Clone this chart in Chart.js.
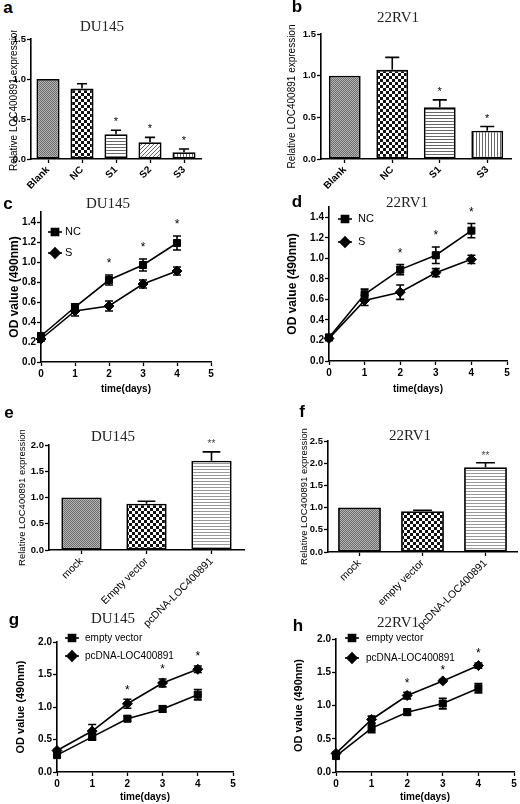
<!DOCTYPE html>
<html>
<head>
<meta charset="utf-8">
<script src="https://cdn.jsdelivr.net/npm/chart.js@4"></script>
<style>
  body { margin: 0; background: #fff; width: 520px; height: 804px; position: relative; overflow: hidden; }
  canvas { position: absolute; }
  .letter { position: absolute; font: bold 17px 'Liberation Sans', Arial, sans-serif; transform: translate(-50%, -50%); color: #000; }
  .ttl { position: absolute; font: 15px 'Liberation Serif', 'DejaVu Serif', serif; transform: translate(-50%, -50%); color: #222; white-space: nowrap; }
</style>
</head>
<body>
<script>
// ---- data ----
const aCats = ['Blank', 'NC', 'S1', 'S2', 'S3'];
const aVals = [1.0, 0.88, 0.31, 0.21, 0.085];
const aErr = [0, 0.06, 0.05, 0.06, 0.04];
const aStars = ['', '', '*', '*', '*'];

const bCats = ['Blank', 'NC', 'S1', 'S3'];
const bVals = [1.0, 1.07, 0.62, 0.34];
const bErr = [0, 0.15, 0.09, 0.05];
const bStars = ['', '', '*', '*'];

const days = [0, 1, 2, 3, 4];

const cNC = [0.26, 0.55, 0.82, 0.97, 1.19];
const cNCErr = [0.02, 0.03, 0.05, 0.06, 0.07];
const cS = [0.23, 0.51, 0.56, 0.78, 0.91];
const cSErr = [0.02, 0.05, 0.05, 0.04, 0.04];
const cStars = ['', '', '*', '*', '*'];

const dNC = [0.23, 0.65, 0.89, 1.03, 1.27];
const dNCErr = [0.02, 0.05, 0.05, 0.08, 0.07];
const dS = [0.22, 0.59, 0.67, 0.86, 0.99];
const dSErr = [0.02, 0.05, 0.07, 0.04, 0.04];
const dStars = ['', '', '*', '*', '*'];

const eCats = ['mock', 'Empty vector', 'pcDNA-LOC400891'];
const eVals = [1.0, 0.88, 1.70];
const eErr = [0, 0.05, 0.17];
const eStars = ['', '', '**'];

const fCats = ['mock', 'empty vector', 'pcDNA-LOC400891'];
const fVals = [1.0, 0.92, 1.91];
const fErr = [0, 0.02, 0.10];
const fStars = ['', '', '**'];

const gEmpty = [0.26, 0.54, 0.82, 0.97, 1.19];
const gEmptyErr = [0.03, 0.05, 0.04, 0.05, 0.08];
const gPc = [0.33, 0.63, 1.05, 1.37, 1.58];
const gPcErr = [0.02, 0.10, 0.07, 0.06, 0.05];
const gStars = ['', '', '*', '*', '*'];

const hEmpty = [0.24, 0.66, 0.90, 1.03, 1.26];
const hEmptyErr = [0.03, 0.07, 0.04, 0.08, 0.07];
const hPc = [0.28, 0.79, 1.15, 1.37, 1.60];
const hPcErr = [0.02, 0.05, 0.05, 0.02, 0.04];
const hStars = ['', '', '*', '*', '*'];

const FONT = "'Liberation Sans', Arial, sans-serif";
Chart.defaults.font.family = FONT;
Chart.defaults.color = '#000';

// hatch fills like the GraphPad bars
function makePattern(kind) {
  const c = document.createElement('canvas');
  const g = c.getContext('2d');
  if (kind === 'shade') {
    c.width = c.height = 2;
    g.fillStyle = '#b4b4b4'; g.fillRect(0, 0, 2, 2);
    g.fillStyle = '#6c6c6c'; g.fillRect(0, 0, 1, 1); g.fillRect(1, 1, 1, 1);
  } else if (kind === 'check') {
    c.width = c.height = 6;
    g.fillStyle = '#fff'; g.fillRect(0, 0, 6, 6);
    g.fillStyle = '#111'; g.fillRect(0, 0, 3, 3); g.fillRect(3, 3, 3, 3);
  } else if (kind === 'hlines' || kind === 'hlight') {
    c.width = 4; c.height = 3;
    g.fillStyle = '#fff'; g.fillRect(0, 0, 4, 3);
    g.fillStyle = kind === 'hlines' ? '#666' : '#999'; g.fillRect(0, 0, 4, 1);
  } else if (kind === 'vlines') {
    c.width = 3; c.height = 4;
    g.fillStyle = '#fff'; g.fillRect(0, 0, 3, 4);
    g.fillStyle = '#666'; g.fillRect(0, 0, 1, 4);
  } else if (kind === 'diag') {
    c.width = c.height = 4;
    g.fillStyle = '#fff'; g.fillRect(0, 0, 4, 4);
    g.fillStyle = '#666';
    for (let i = 0; i < 4; i++) g.fillRect(i, 3 - i, 1, 1);
  }
  return g.createPattern(c, 'repeat');
}

const valOf = v => (typeof v === 'object' ? v.y : v);

// error bars (bars: upward only, lines: both ways)
const errorBars = {
  id: 'errorBars',
  afterDatasetsDraw(chart) {
    const { ctx } = chart;
    const ys = chart.scales.y;
    chart.data.datasets.forEach((ds, di) => {
      if (!ds.errors) return;
      const meta = chart.getDatasetMeta(di);
      const isBar = meta.type === 'bar';
      meta.data.forEach((el, i) => {
        const e = ds.errors[i];
        if (!e) return;
        const v = valOf(ds.data[i]);
        const top = ys.getPixelForValue(v + e);
        const bot = isBar ? el.y : ys.getPixelForValue(v - e);
        const cap = isBar ? el.width * 0.22 : 4;
        ctx.save();
        ctx.strokeStyle = '#000';
        ctx.lineWidth = 1.6;
        ctx.beginPath();
        ctx.moveTo(el.x, bot); ctx.lineTo(el.x, top);
        ctx.moveTo(el.x - cap, top); ctx.lineTo(el.x + cap, top);
        if (!isBar) { ctx.moveTo(el.x - cap, bot); ctx.lineTo(el.x + cap, bot); }
        ctx.stroke();
        ctx.restore();
      });
    });
  }
};

// significance stars
const starMarks = {
  id: 'starMarks',
  afterDatasetsDraw(chart, args, o) {
    const { ctx } = chart;
    const ds = chart.data.datasets[o.dataset];
    const meta = chart.getDatasetMeta(o.dataset);
    const ys = chart.scales.y;
    ctx.save();
    ctx.fillStyle = o.color;
    ctx.font = o.size + 'px ' + FONT;
    ctx.textAlign = 'center';
    ctx.textBaseline = 'middle';
    o.marks.forEach((m, i) => {
      if (!m) return;
      const top = ys.getPixelForValue(valOf(ds.data[i]) + (ds.errors[i] || 0));
      ctx.fillText(m, meta.data[i].x, top - o.gap);
    });
    ctx.restore();
  }
};

// legend sitting inside the plot, top left
const innerLegend = {
  id: 'innerLegend',
  afterDraw(chart, args, o) {
    if (!o.show) return;
    const { ctx, chartArea } = chart;
    chart.data.datasets.forEach((ds, i) => {
      const x = chartArea.left + o.dx;
      const y = chartArea.top + o.dy + i * o.gap;
      ctx.save();
      ctx.strokeStyle = '#000';
      ctx.fillStyle = '#000';
      ctx.lineWidth = 1.6;
      ctx.beginPath();
      ctx.moveTo(x - o.half, y); ctx.lineTo(x + o.half, y);
      ctx.stroke();
      Chart.helpers.drawPoint(ctx, { pointStyle: ds.pointStyle, radius: ds.pointRadius, borderWidth: 1 }, x, y);
      ctx.font = o.size + 'px ' + FONT;
      ctx.textBaseline = 'middle';
      ctx.fillText(ds.label, x + o.textDx, y);
      ctx.restore();
    });
  }
};

function axisGrid() {
  return { display: true, drawOnChartArea: false, drawTicks: true, tickLength: 4, tickColor: '#000', tickWidth: 1.3, offset: false };
}

function makePanel(p) {
  const [bx, by, bw, bh] = p.box;
  const [al, at, ar, ab] = p.area;
  const cv = document.createElement('canvas');
  cv.width = bw; cv.height = bh;
  cv.style.left = bx + 'px'; cv.style.top = by + 'px';
  document.body.appendChild(cv);

  const letter = document.createElement('div');
  letter.className = 'letter';
  letter.textContent = p.id;
  letter.style.left = p.letterAt[0] + 'px'; letter.style.top = p.letterAt[1] + 'px';
  document.body.appendChild(letter);

  const ttl = document.createElement('div');
  ttl.className = 'ttl';
  ttl.textContent = p.title;
  ttl.style.left = p.titleAt[0] + 'px'; ttl.style.top = p.titleAt[1] + 'px';
  document.body.appendChild(ttl);

  const yAxisW = al - bx, padTop = at - by, padRight = bx + bw - ar, xAxisH = by + bh - ab;
  const yTitlePad = p.ylabelX - bx - p.yTitleSize * 0.6;
  const isBar = p.kind === 'bar';

  const scales = {
    x: {
      afterFit: s => { s.height = xAxisH; },
      grid: axisGrid(),
      border: { display: true, color: '#000', width: 1.6 },
    },
    y: {
      min: 0, max: p.yMax,
      afterFit: s => { s.width = yAxisW; },
      // labelled ticks stop at yTickMax even when the axis runs a bit higher
      afterBuildTicks: s => {
        const t = [];
        for (let k = 0; k * p.yStep <= p.yTickMax + 1e-9; k++) t.push({ value: Math.round(k * p.yStep * 100) / 100 });
        s.ticks = t;
      },
      ticks: { callback: v => Number(v).toFixed(1), font: { size: p.yTickSize, weight: 'bold' }, color: '#000', padding: 1 },
      grid: axisGrid(),
      border: { display: true, color: '#000', width: 1.6 },
      title: { display: true, text: p.yTitle, color: '#000', font: { size: p.yTitleSize, weight: p.yTitleWeight }, padding: { top: yTitlePad, bottom: 0 } },
    },
  };

  let data;
  if (isBar) {
    scales.x.ticks = { minRotation: 45, maxRotation: 45, autoSkip: false, font: { size: p.catSize, weight: p.catWeight }, color: '#000', padding: 1 };
    data = {
      labels: p.labels,
      datasets: [{
        data: p.values,
        errors: p.errors,
        backgroundColor: p.fills.map(makePattern),
        borderColor: '#000',
        borderWidth: 1.8,
        borderSkipped: false,
        barPercentage: p.barPct,
        categoryPercentage: 1,
      }],
    };
  } else {
    const xTitlePad = by + bh - p.xlabelY - 10 * 0.6;
    scales.x.type = 'linear';
    scales.x.min = 0;
    scales.x.max = 5;
    scales.x.ticks = { stepSize: 1, font: { size: 10, weight: 'bold' }, color: '#000', padding: 2 };
    scales.x.title = { display: true, text: 'time(days)', color: '#000', font: { size: 10, weight: 'bold' }, padding: { top: 0, bottom: xTitlePad } };
    data = {
      datasets: p.series.map(s => ({
        label: s.label,
        data: days.map((d, i) => ({ x: d, y: s.values[i] })),
        errors: s.errors,
        borderColor: '#000',
        borderWidth: 1.6,
        pointStyle: s.marker,
        pointRadius: 5,
        pointBackgroundColor: '#000',
        pointBorderColor: '#000',
        pointBorderWidth: 1,
        tension: 0,
        clip: false,
      })),
    };
  }

  new Chart(cv.getContext('2d'), {
    type: isBar ? 'bar' : 'line',
    data,
    options: {
      responsive: false,
      animation: false,
      devicePixelRatio: 1,
      layout: { padding: { top: padTop, right: padRight, left: 0, bottom: 0 } },
      scales,
      plugins: {
        legend: { display: false },
        tooltip: { enabled: false },
        starMarks: { dataset: p.starSet || 0, marks: p.stars, gap: p.starGap, size: p.starSize, color: p.starColor || '#000' },
        innerLegend: p.legend || { show: false },
      },
    },
    plugins: [errorBars, starMarks, innerLegend],
  });
}

const relTitle = 'Relative LOC400891 expression';
const odTitle = 'OD value (490nm)';

const panels = [
  { id: 'a', kind: 'bar', title: 'DU145', titleAt: [102, 26], letterAt: [8, 8],
    box: [0, 30, 215, 170], area: [31, 39, 201, 159], ylabelX: 14,
    labels: aCats, values: aVals, errors: aErr, stars: aStars,
    fills: ['shade', 'check', 'hlines', 'diag', 'vlines'], barPct: 0.68,
    yMax: 1.5, yTickMax: 1.5, yStep: 0.5, yTickSize: 9.5, yTitle: relTitle, yTitleSize: 10, yTitleWeight: 'normal',
    catSize: 10, catWeight: 'bold', starGap: 8, starSize: 11 },
  { id: 'b', kind: 'bar', title: '22RV1', titleAt: [398, 17], letterAt: [297, 7],
    box: [278, 25, 242, 175], area: [321, 34, 511, 159], ylabelX: 292,
    labels: bCats, values: bVals, errors: bErr, stars: bStars,
    fills: ['shade', 'check', 'hlines', 'vlines'], barPct: 0.67,
    yMax: 1.5, yTickMax: 1.5, yStep: 0.5, yTickSize: 9.5, yTitle: relTitle, yTitleSize: 10, yTitleWeight: 'normal',
    catSize: 10, catWeight: 'bold', starGap: 8, starSize: 11 },
  { id: 'c', kind: 'line', title: 'DU145', titleAt: [108, 203], letterAt: [8, 204],
    box: [0, 198, 225, 200], area: [41, 212, 211, 362], ylabelX: 15, xlabelY: 389,
    series: [
      { label: 'NC', values: cNC, errors: cNCErr, marker: 'rect' },
      { label: 'S', values: cS, errors: cSErr, marker: 'rectRot' },
    ],
    stars: cStars, starSet: 0, starGap: 11, starSize: 12,
    yMax: 1.5, yTickMax: 1.4, yStep: 0.2, yTickSize: 10, yTitle: odTitle, yTitleSize: 12, yTitleWeight: 'bold',
    legend: { show: true, dx: 14, dy: 20, gap: 21, half: 7, textDx: 10, size: 11 } },
  { id: 'd', kind: 'line', title: '22RV1', titleAt: [407, 202], letterAt: [297, 202],
    box: [278, 195, 242, 203], area: [329, 207, 507, 361], ylabelX: 293, xlabelY: 389,
    series: [
      { label: 'NC', values: dNC, errors: dNCErr, marker: 'rect' },
      { label: 'S', values: dS, errors: dSErr, marker: 'rectRot' },
    ],
    stars: dStars, starSet: 0, starGap: 11, starSize: 12,
    yMax: 1.5, yTickMax: 1.4, yStep: 0.2, yTickSize: 10, yTitle: odTitle, yTitleSize: 12, yTitleWeight: 'bold',
    legend: { show: true, dx: 16, dy: 12, gap: 23, half: 7, textDx: 13, size: 11 } },
  { id: 'e', kind: 'bar', title: 'DU145', titleAt: [113, 436], letterAt: [9, 413],
    box: [0, 430, 260, 200], area: [49, 445, 244, 550], ylabelX: 22,
    labels: eCats, values: eVals, errors: eErr, stars: eStars,
    fills: ['shade', 'check', 'hlight'], barPct: 0.62,
    yMax: 2.0, yTickMax: 2.0, yStep: 0.5, yTickSize: 9.5, yTitle: relTitle, yTitleSize: 9.5, yTitleWeight: 'normal',
    catSize: 10.5, catWeight: 'normal', starGap: 8, starSize: 10, starColor: '#444' },
  { id: 'f', kind: 'bar', title: '22RV1', titleAt: [410, 435], letterAt: [302, 412],
    box: [278, 425, 242, 205], area: [328, 441, 517, 552], ylabelX: 304,
    labels: fCats, values: fVals, errors: fErr, stars: fStars,
    fills: ['shade', 'check', 'hlight'], barPct: 0.68,
    yMax: 2.5, yTickMax: 2.5, yStep: 0.5, yTickSize: 9.5, yTitle: relTitle, yTitleSize: 9.5, yTitleWeight: 'normal',
    catSize: 10.5, catWeight: 'normal', starGap: 7, starSize: 10, starColor: '#444' },
  { id: 'g', kind: 'line', title: 'DU145', titleAt: [113, 618], letterAt: [14, 620],
    box: [0, 630, 250, 174], area: [57, 642, 233, 772], ylabelX: 21, xlabelY: 797,
    series: [
      { label: 'empty vector', values: gEmpty, errors: gEmptyErr, marker: 'rect' },
      { label: 'pcDNA-LOC400891', values: gPc, errors: gPcErr, marker: 'rectRot' },
    ],
    stars: gStars, starSet: 1, starGap: 9, starSize: 12,
    yMax: 2.0, yTickMax: 2.0, yStep: 0.5, yTickSize: 10, yTitle: odTitle, yTitleSize: 11, yTitleWeight: 'bold',
    legend: { show: true, dx: 15, dy: -4, gap: 18, half: 7, textDx: 13, size: 10 } },
  { id: 'h', kind: 'line', title: '22RV1', titleAt: [398, 622], letterAt: [298, 626],
    box: [278, 628, 242, 176], area: [336, 639, 516, 772], ylabelX: 299, xlabelY: 797,
    series: [
      { label: 'empty vector', values: hEmpty, errors: hEmptyErr, marker: 'rect' },
      { label: 'pcDNA-LOC400891', values: hPc, errors: hPcErr, marker: 'rectRot' },
    ],
    stars: hStars, starSet: 1, starGap: 9, starSize: 12,
    yMax: 2.0, yTickMax: 2.0, yStep: 0.5, yTickSize: 10, yTitle: odTitle, yTitleSize: 11, yTitleWeight: 'bold',
    legend: { show: true, dx: 16, dy: -1, gap: 20, half: 7, textDx: 14, size: 10 } },
];

panels.forEach(makePanel);
</script>
</body>
</html>
